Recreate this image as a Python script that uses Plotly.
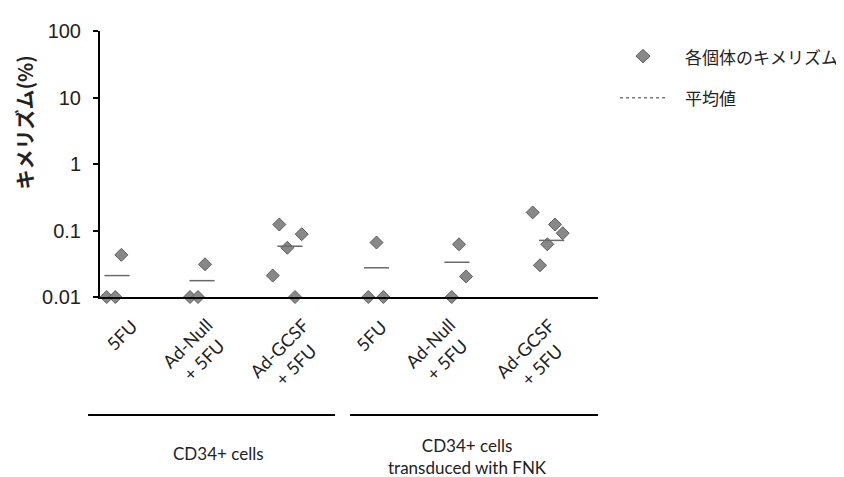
import plotly.graph_objects as go

# ---------------- data ----------------
categories = ["5FU", "Ad-Null<br>+ 5FU", "Ad-GCSF<br>+ 5FU",
              "5FU", "Ad-Null<br>+ 5FU", "Ad-GCSF<br>+ 5FU"]
group_labels = ["CD34+ cells", "CD34+ cells<br>transduced with FNK"]

vals_5fu_a = [0.01, 0.01, 0.043]
vals_null_a = [0.01, 0.01, 0.031]
vals_gcsf_a = [0.123, 0.088, 0.055, 0.021, 0.01]
vals_5fu_b = [0.01, 0.01, 0.066]
vals_null_b = [0.01, 0.062, 0.0204]
vals_gcsf_b = [0.187, 0.123, 0.091, 0.062, 0.030]
mean_vals = [0.021, 0.0176, 0.058, 0.0275, 0.0333, 0.071]

y_tickvals = [0.01, 0.1, 1, 10, 100]
y_ticktext = ["0.01", "0.1", "1", "10", "100"]

legend_names = ["各個体のキメリズム", "平均値"]
y_title = "キメリズム(%)"

# ---------------- layout helpers (positions / styles) ----------------
all_vals = [vals_5fu_a, vals_null_a, vals_gcsf_a, vals_5fu_b, vals_null_b, vals_gcsf_b]
jitter = [
    [-0.12, -0.02, 0.05],
    [-0.156, -0.064, 0.017],
    [-0.124, 0.135, -0.031, -0.2, 0.058],
    [-0.095, 0.079, 0.0],
    [-0.13, -0.046, 0.035],
    [-0.194, 0.064, 0.153, -0.025, -0.11],
]
mean_jitter = [0.0, -0.017, 0.0, 0.0, -0.07, 0.025]
label_offset = [0.054, -0.098, -0.038, -0.067, -0.289, -0.19]
label_y = [-0.144, -0.205, -0.222, -0.145, -0.205, -0.222]

px_x, py_y = [], []
for i, (vs, js) in enumerate(zip(all_vals, jitter)):
    for v, j in zip(vs, js):
        px_x.append(i + j)
        py_y.append(v)

mx = [i + j for i, j in enumerate(mean_jitter)]

fig = go.Figure()
fig.add_trace(go.Scatter(
    x=px_x, y=py_y, mode="markers", name=legend_names[0], cliponaxis=False,
    marker=dict(symbol="diamond", size=10, color="#888888",
                line=dict(color="#5f5f5f", width=1)),
    showlegend=False,
))
fig.add_trace(go.Scatter(
    x=mx, y=mean_vals, mode="markers", name=legend_names[1], cliponaxis=False,
    marker=dict(symbol="line-ew", size=18, color="#777777",
                line=dict(color="#6a6a6a", width=1.5)),
    showlegend=False,
))

font_cal = "Lato"
jp = "Noto Sans CJK JP"
annotations = []
for i, (lab, off, ly) in enumerate(zip(categories, label_offset, label_y)):
    annotations.append(dict(
        x=i + off, y=ly, xref="x", yref="paper", text=lab, showarrow=False,
        textangle=-45, xanchor="center", yanchor="middle", align="center",
        font=dict(family=font_cal, size=18, color="#222"),
    ))
annotations.append(dict(x=0.237, y=-0.587, xref="paper", yref="paper",
                        text=group_labels[0], showarrow=False, align="center",
                        xanchor="center", yanchor="middle",
                        font=dict(family=font_cal, size=17, color="#222")))
annotations.append(dict(x=0.737, y=-0.600, xref="paper", yref="paper",
                        text=group_labels[1], showarrow=False, align="center",
                        xanchor="center", yanchor="middle",
                        font=dict(family=font_cal, size=17, color="#222")))
# y title
annotations.append(dict(x=-0.151, y=0.655, xref="paper", yref="paper",
                        text="<b>" + y_title + "</b>", showarrow=False,
                        textangle=-90, xanchor="center", yanchor="middle",
                        font=dict(family=jp, size=20, color="#222")))
# legend texts
annotations.append(dict(x=1.1707, y=0.9055, xref="paper", yref="paper",
                        text=legend_names[0], showarrow=False, xanchor="left",
                        yanchor="middle",
                        font=dict(family=jp, size=17, color="#222")))
annotations.append(dict(x=1.1707, y=0.749, xref="paper", yref="paper",
                        text=legend_names[1], showarrow=False, xanchor="left",
                        yanchor="middle",
                        font=dict(family=jp, size=17, color="#222")))

cx, cy, hx, hy = 1.0904, 0.9055, 7 / 498, 7 / 275
shapes = [
    dict(type="line", xref="paper", yref="paper", x0=-0.024, x1=0.472,
         y0=-0.4436, y1=-0.4436, line=dict(color="black", width=2)),
    dict(type="line", xref="paper", yref="paper", x0=0.502, x1=1.0,
         y0=-0.4436, y1=-0.4436, line=dict(color="black", width=2)),
    dict(type="path", xref="paper", yref="paper",
         path=f"M {cx-hx} {cy} L {cx} {cy+hy} L {cx+hx} {cy} L {cx} {cy-hy} Z",
         fillcolor="#888888", line=dict(color="#5f5f5f", width=1)),
    dict(type="line", xref="paper", yref="paper", x0=1.0442, x1=1.1345,
         y0=0.749, y1=0.749, line=dict(color="#777777", width=1.5, dash="dot")),
]

# page body has an 8px default margin: figure sized so the plot sits where the reference's does
fig.update_layout(
    width=836, height=469,
    margin=dict(l=92, r=246, t=14, b=180),
    plot_bgcolor="white", paper_bgcolor="white",
    showlegend=False,
    annotations=annotations, shapes=shapes,
    xaxis=dict(range=[-0.197, 5.561], showline=True, linecolor="black",
               linewidth=2, showgrid=False, zeroline=False,
               showticklabels=False, ticks=""),
    yaxis=dict(type="log", range=[-2, 2], tickvals=y_tickvals,
               ticktext=y_ticktext, ticks="outside", ticklen=5, tickwidth=1.5,
               tickcolor="black", showline=True, linecolor="black",
               linewidth=2, showgrid=False, zeroline=False,
               ticklabelstandoff=8,
               tickfont=dict(family="Arial", size=20, color="#222")),
)

fig.write_html("out.html")
